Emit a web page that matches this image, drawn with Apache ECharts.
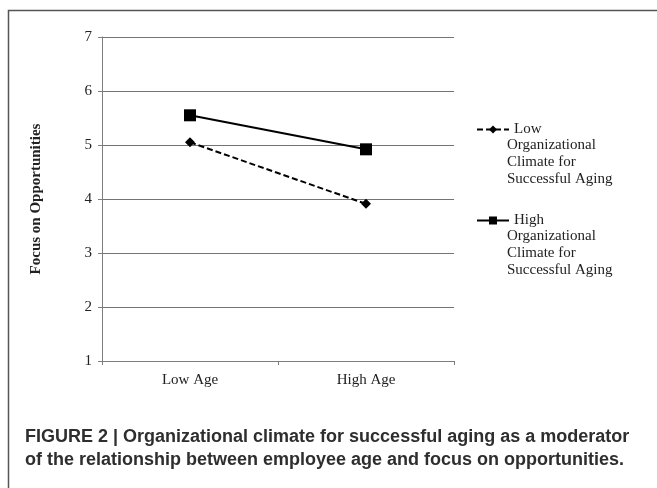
<!DOCTYPE html>
<html>
<head>
<meta charset="utf-8">
<script src="https://cdn.jsdelivr.net/npm/echarts@6/dist/echarts.min.js"></script>
<style>
  html, body { margin: 0; padding: 0; background: #fff; }
  #main { width: 657px; height: 488px; }
</style>
</head>
<body>
<div id="main"></div>
<script>
var ageGroups = ['Low Age', 'High Age'];
var lowClimateName = 'Low Organizational Climate for Successful Aging';
var highClimateName = 'High Organizational Climate for Successful Aging';
var lowClimate = [5.05, 3.91];
var highClimate = [5.55, 4.92];
var yTicks = [1, 7, 1]; // min, max, step

var serif = '"Liberation Serif", "Times New Roman", serif';

// legend shows the first word, the rest of the name wraps underneath
function restOfName(name) {
    var words = name.split(' ').slice(1);
    return words[0] + '\n' + words.slice(1, 3).join(' ') + '\n' + words.slice(3).join(' ');
}

var myChart = echarts.init(document.getElementById('main'));

var option = {
    backgroundColor: '#fff',
    animation: false,
    grid: { left: 102, top: 37, right: 203, bottom: 127 },
    xAxis: {
        type: 'category',
        data: ageGroups,
        boundaryGap: true,
        axisLine: { lineStyle: { color: '#7d7d7d', width: 1 } },
        axisTick: { show: true, length: 4, lineStyle: { color: '#7d7d7d' } },
        axisLabel: { color: '#222', fontFamily: serif, fontSize: 15, margin: 12 }
    },
    yAxis: {
        type: 'value',
        min: yTicks[0],
        max: yTicks[1],
        interval: yTicks[2],
        name: 'Focus on Opportunities',
        nameLocation: 'middle',
        nameGap: 58,
        nameTextStyle: { color: '#222', fontFamily: serif, fontSize: 15, fontWeight: 'bold' },
        axisLine: { show: true, lineStyle: { color: '#7d7d7d', width: 1 } },
        axisTick: { show: true, length: 4, lineStyle: { color: '#7d7d7d' } },
        axisLabel: { color: '#222', fontFamily: serif, fontSize: 15, margin: 10 },
        splitLine: { lineStyle: { color: '#7f706a', width: 1.2 } }
    },
    legend: {
        orient: 'vertical',
        left: 471,
        top: 116,
        itemWidth: 32,
        itemHeight: 10,
        itemGap: 74,
        data: [lowClimateName, highClimateName],
        formatter: function(name) { return name.split(' ')[0]; },
        textStyle: { color: '#222', fontFamily: serif, fontSize: 15, lineHeight: 17 }
    },
    graphic: [
        {
            type: 'rect', left: 6, top: 8, silent: true,
            shape: { width: 700, height: 600 },
            style: { fill: 'none', stroke: '#555', lineWidth: 1.5 }
        },
        {
            type: 'text', left: 507, top: 137,
            style: { text: restOfName(lowClimateName), fill: '#222', font: '15px ' + serif, lineHeight: 16.7 }
        },
        {
            type: 'text', left: 507, top: 228,
            style: { text: restOfName(highClimateName), fill: '#222', font: '15px ' + serif, lineHeight: 16.7 }
        },
        {
            type: 'text', left: 25, top: 426,
            style: {
                text: 'FIGURE 2 | Organizational climate for successful aging as a moderator\nof the relationship between employee age and focus on opportunities.',
                fill: '#2e2e2e',
                font: 'bold 18px "Liberation Sans", Arial, sans-serif',
                lineHeight: 23
            }
        }
    ],
    series: [
        {
            name: lowClimateName,
            type: 'line',
            data: lowClimate,
            symbol: 'diamond',
            symbolSize: [10, 10],
            itemStyle: { color: '#000' },
            lineStyle: { color: '#000', width: 2, type: [6, 3] }
        },
        {
            name: highClimateName,
            type: 'line',
            data: highClimate,
            symbol: 'rect',
            symbolSize: 12,
            itemStyle: { color: '#000' },
            lineStyle: { color: '#000', width: 2 }
        }
    ]
};
myChart.setOption(option);
</script>
</body>
</html>
